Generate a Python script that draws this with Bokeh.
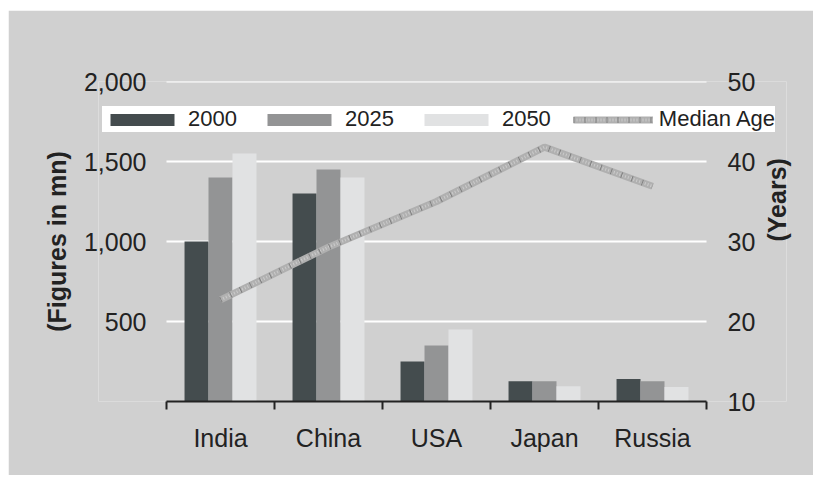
from bokeh.plotting import figure
from bokeh.models import (ColumnDataSource, Range1d, LinearAxis, FixedTicker,
                          NumeralTickFormatter, Legend, LegendItem)
from bokeh.transform import dodge
from bokeh.embed import file_html
from bokeh.resources import INLINE

# ---- data ----
countries = ["India", "China", "USA", "Japan", "Russia"]
pop_2000 = [1000, 1300, 250, 127, 140]
pop_2025 = [1400, 1450, 350, 127, 127]
pop_2050 = [1550, 1400, 450, 95, 90]
median_age = [22.7, 29.3, 35.0, 41.8, 36.9]
left_ticks = [500, 1000, 1500, 2000]
right_ticks = [10, 20, 30, 40, 50]

FONT = "Liberation Sans"
TXT = "#222222"
BG = "#d0d0d0"

n = len(countries)
xc = [i + 0.5 for i in range(n)]
src = ColumnDataSource(dict(x=xc, y0=pop_2000, y1=pop_2025, y2=pop_2050, age=median_age))
grid_src = ColumnDataSource(dict(x0=[0] * len(left_ticks), x1=[n] * len(left_ticks), y=left_ticks))

# frame is wider than the category area so that the legend (which spans
# beyond the plot area in the reference) is not clipped
p = figure(width=805, height=465, output_backend="svg", toolbar_location=None,
           x_range=Range1d(-0.6296, n + 0.7407), y_range=Range1d(0, 2000),
           background_fill_color=BG, border_fill_color=BG,
           min_border_left=90, min_border_right=27, min_border_top=71, min_border_bottom=74)
p.margin = (10, 0, 0, 8)
p.outline_line_color = None
p.extra_y_ranges = {"age": Range1d(10, 50)}
p.xgrid.grid_line_color = None
p.ygrid.grid_line_color = None

# gridlines limited to category area
p.segment(x0="x0", x1="x1", y0="y", y1="y", source=grid_src, line_color="white", line_width=2)

bw = 0.222
r0 = p.vbar(x=dodge("x", -bw, range=p.x_range), top="y0", width=bw, source=src,
            fill_color="#444c4e", line_color=None)
r1 = p.vbar(x=dodge("x", 0, range=p.x_range), top="y1", width=bw, source=src,
            fill_color="#939495", line_color=None)
r2 = p.vbar(x=dodge("x", bw, range=p.x_range), top="y2", width=bw, source=src,
            fill_color="#e1e2e3", line_color=None)

l_base = p.line("x", "age", source=src, y_range_name="age", line_color="#b0b0b0", line_width=7)
l_dots = p.line("x", "age", source=src, y_range_name="age", line_color="#cbcbcb", line_width=3,
                line_dash="1 2")
l_x = p.line("x", "age", source=src, y_range_name="age", line_color="#7e7e7e", line_width=6,
             line_dash="1 10")

# x axis
xa = p.xaxis[0]
xa.bounds = (0, n)
xa.ticker = FixedTicker(ticks=xc, minor_ticks=list(range(n + 1)))
xa.major_label_overrides = {v: c for v, c in zip(xc, countries)}
xa.major_tick_line_color = None
xa.major_tick_out = 0
xa.major_tick_in = 0
xa.minor_tick_line_color = TXT
xa.minor_tick_line_width = 2
xa.minor_tick_out = 8
xa.minor_tick_in = 0
xa.axis_line_color = TXT
xa.axis_line_width = 2
xa.major_label_text_font = FONT
xa.major_label_text_font_size = "25px"
xa.major_label_text_color = TXT
xa.major_label_standoff = 14

# left axis (labels pulled inside the wider frame)
ya = p.yaxis[0]
ya.ticker = FixedTicker(ticks=left_ticks)
ya.formatter = NumeralTickFormatter(format="0,0")
ya.axis_line_color = None
ya.major_tick_line_color = None
ya.minor_tick_line_color = None
ya.major_tick_out = 0
ya.major_tick_in = 0
ya.major_label_standoff = -48
ya.major_label_text_font = FONT
ya.major_label_text_font_size = "25px"
ya.major_label_text_color = TXT
ya.axis_label = "(Figures in mn)"
ya.axis_label_text_font = FONT
ya.axis_label_text_font_size = "25px"
ya.axis_label_text_font_style = "bold"
ya.axis_label_text_color = TXT
ya.axis_label_standoff = 10

# right axis
ra = LinearAxis(y_range_name="age", ticker=FixedTicker(ticks=right_ticks))
ra.axis_line_color = None
ra.major_tick_line_color = None
ra.minor_tick_line_color = None
ra.major_tick_out = 0
ra.major_tick_in = 0
ra.major_label_standoff = -59
ra.major_label_text_font = FONT
ra.major_label_text_font_size = "25px"
ra.major_label_text_color = TXT
ra.axis_label = "(Years)"
ra.axis_label_text_font = FONT
ra.axis_label_text_font_size = "25px"
ra.axis_label_text_font_style = "bold"
ra.axis_label_text_color = TXT
ra.axis_label_standoff = 19
try:
    ra.axis_label_orientation = 3.141592653589793 / 2
except Exception:
    pass
p.add_layout(ra, "right")

legend = Legend(items=[
    LegendItem(label="2000", renderers=[r0]),
    LegendItem(label="2025", renderers=[r1]),
    LegendItem(label="2050", renderers=[r2]),
    LegendItem(label="Median Age", renderers=[l_base, l_dots, l_x]),
], orientation="horizontal", location=(4, 269), margin=0, padding=8, spacing=22,
    glyph_width=80, glyph_height=15, label_standoff=6,
    label_text_font=FONT, label_text_font_size="22px", label_text_color=TXT,
    background_fill_color="white", background_fill_alpha=1.0, border_line_color=None)
p.add_layout(legend, "center")

open("out.html", "w").write(file_html(p, INLINE))
